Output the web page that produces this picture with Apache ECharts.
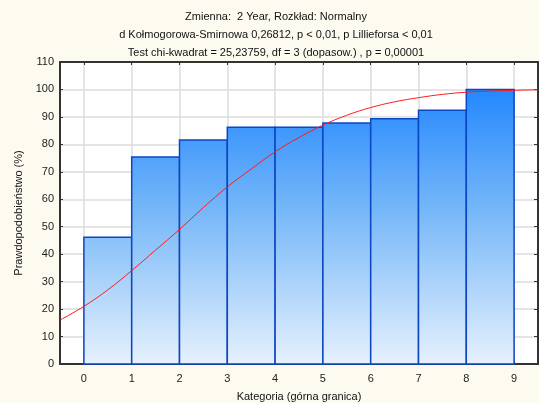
<!DOCTYPE html>
<html><head><meta charset="utf-8">
<script src="https://cdn.jsdelivr.net/npm/echarts@6/dist/echarts.min.js"></script>
<style>html,body{margin:0;padding:0;background:#fdfaf0;}#c{width:539px;height:403px;}</style>
</head><body><div id="c"></div>
<script>
// Bin edges (lower, upper) and cumulative probability (%)
const binLower = [0, 1, 2, 3, 4, 5, 6, 7, 8];
const binUpper = [1, 2, 3, 4, 5, 6, 7, 8, 9];
const cumPercent = [46.2, 75.4, 81.6, 86.2, 86.2, 87.8, 89.3, 92.4, 100];
// Fitted normal CDF curve
const curveX = [-0.5, 0, 0.5, 1, 1.5, 2, 2.5, 3, 3.5, 4, 4.5, 5, 5.5, 6, 6.5, 7, 7.5, 8, 8.5, 9, 9.5];
const curveY = [16, 21, 27, 34, 41.5, 49, 57, 64.5, 71, 77.3, 82.5, 87, 90.6, 93.4, 95.5, 97, 98.2, 99, 99.4, 99.7, 99.9];
const xTicks = [0, 1, 2, 3, 4, 5, 6, 7, 8, 9];
const titleLines = [
  'Zmienna:  2 Year, Rozkład: Normalny',
  'd Kołmogorowa-Smirnowa 0,26812, p < 0,01, p Lillieforsa < 0,01',
  'Test chi-kwadrat = 25,23759, df = 3 (dopasow.) , p = 0,00001'
];

const chart = echarts.init(document.getElementById('c'));
const font = 'Arial, "Liberation Sans", sans-serif';
const barData = binLower.map((l, i) => [l, binUpper[i], cumPercent[i]]);
const lineData = curveX.map((x, i) => [x, curveY[i]]);

chart.setOption({
  backgroundColor: '#fdfaf0',
  animation: false,
  title: {
    text: titleLines.join('\n'),
    left: 271, top: 3, textAlign: 'center',
    textStyle: { fontFamily: font, fontSize: 11, fontWeight: 'normal', color: '#111', lineHeight: 18 }
  },
  grid: { left: 60, right: 1, top: 62, bottom: 39, outerBoundsMode: 'none', containLabel: false,
          show: true, backgroundColor: '#ffffff', borderWidth: 0 },
  xAxis: [{
    type: 'value', min: -0.5, max: 9.5,
    name: 'Kategoria (górna granica)', nameLocation: 'middle', nameGap: 27,
    nameTextStyle: { fontFamily: font, fontSize: 11, color: '#111' },
    axisLine: { show: true, onZero: false, lineStyle: { color: '#333', width: 2 } },
    axisTick: { show: true, inside: true, length: 3, customValues: xTicks, lineStyle: { color: '#333' } },
    axisLabel: { customValues: xTicks, fontFamily: font, fontSize: 11, color: '#222', margin: 9 },
    splitLine: { show: true, lineStyle: { color: '#dcdcdc', width: 1.5 } }
  }, {
    type: 'value', min: -0.5, max: 9.5, position: 'top',
    axisLine: { show: true, onZero: false, lineStyle: { color: '#333', width: 2 } },
    axisTick: { show: true, inside: true, length: 3, customValues: xTicks, lineStyle: { color: '#333' } },
    axisLabel: { show: false, customValues: xTicks },
    splitLine: { show: false }
  }],
  yAxis: [{
    type: 'value', min: 0, max: 110, interval: 10,
    name: 'Prawdopodobieństwo (%)', nameLocation: 'middle', nameGap: 34,
    nameTextStyle: { fontFamily: font, fontSize: 11, color: '#111' },
    axisLine: { show: true, onZero: false, lineStyle: { color: '#333', width: 2 } },
    axisTick: { show: true, inside: true, length: 3, lineStyle: { color: '#333' } },
    axisLabel: { fontFamily: font, fontSize: 11, color: '#222', margin: 6 },
    splitLine: { show: true, lineStyle: { color: '#dcdcdc', width: 1.5 } }
  }, {
    type: 'value', min: 0, max: 110, interval: 10, position: 'right',
    axisLine: { show: true, onZero: false, lineStyle: { color: '#333', width: 2 } },
    axisTick: { show: true, inside: true, length: 4, lineStyle: { color: '#333' } },
    axisLabel: { show: false },
    splitLine: { show: false }
  }],
  series: [{
    type: 'custom',
    data: barData,
    encode: { x: [0, 1], y: 2 },
    renderItem: function (params, api) {
      const p0 = api.coord([api.value(0), 0]);
      const p1 = api.coord([api.value(1), api.value(2)]);
      const top = api.coord([0, 110]);
      const bottom = api.coord([0, 0]);
      return {
        type: 'rect',
        shape: { x: p0[0], y: p1[1], width: p1[0] - p0[0], height: p0[1] - p1[1] },
        style: {
          fill: new echarts.graphic.LinearGradient(0, top[1], 0, bottom[1], [
            { offset: 0, color: '#127dff' },
            { offset: 0.5, color: '#78b8f8' },
            { offset: 1, color: '#e6f1fd' }
          ], true),
          stroke: '#0d46c4',
          lineWidth: 1.5
        }
      };
    },
    z: 2
  }, {
    type: 'line',
    data: lineData,
    smooth: 0.4,
    showSymbol: false,
    lineStyle: { color: '#ff1a1a', width: 1 },
    z: 3
  }]
});
</script></body></html>
